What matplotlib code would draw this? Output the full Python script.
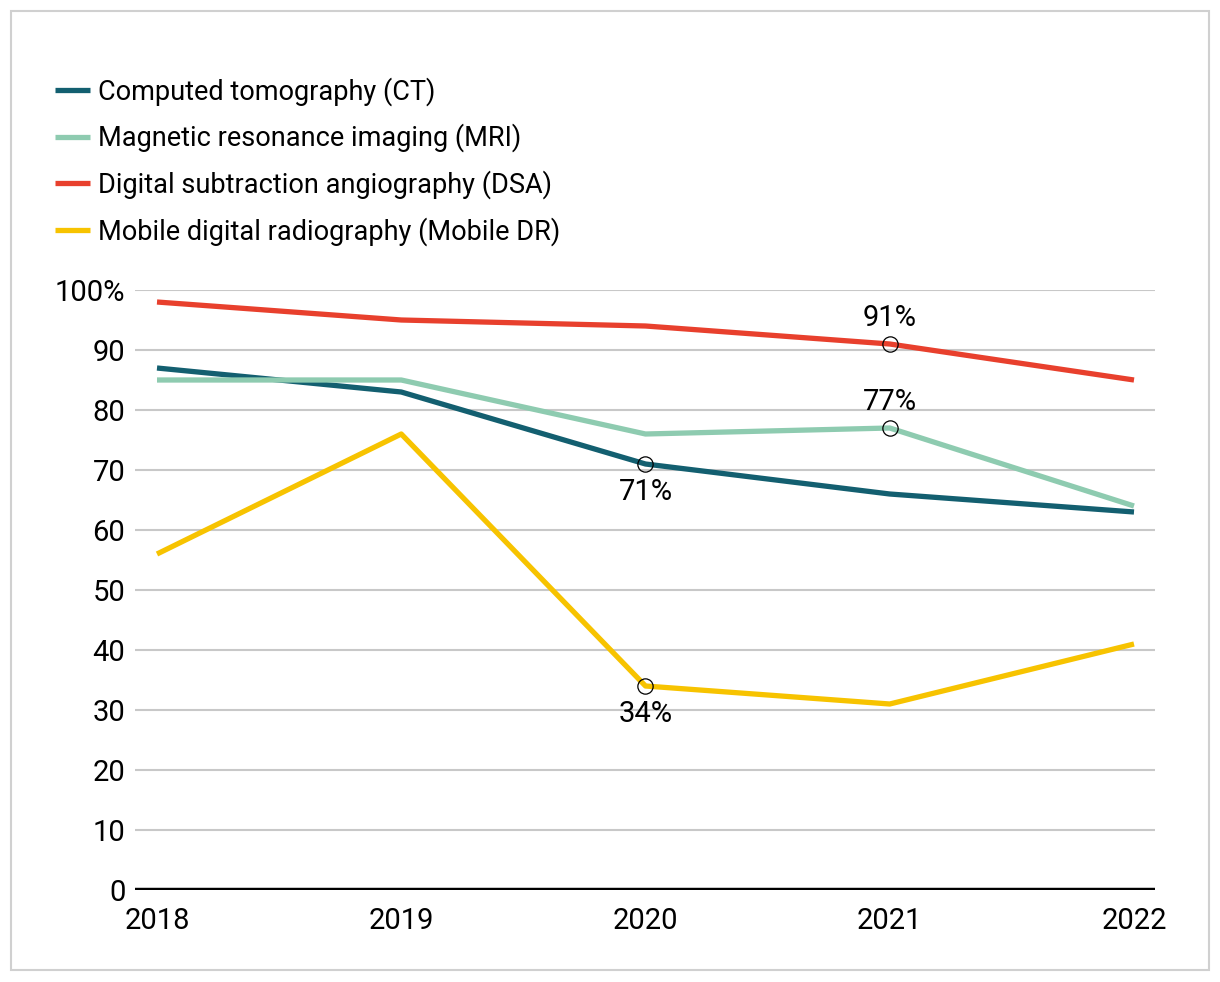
import matplotlib.pyplot as plt
from matplotlib.patches import Rectangle

plt.rcParams["font.family"] = ["Roboto", "DejaVu Sans"]

years = [2018, 2019, 2020, 2021, 2022]
ct = [87, 83, 71, 66, 63]
mri = [85, 85, 76, 77, 64]
dsa = [98, 95, 94, 91, 85]
mobile_dr = [56, 76, 34, 31, 41]

labels = [
    "Computed tomography (CT)",
    "Magnetic resonance imaging (MRI)",
    "Digital subtraction angiography (DSA)",
    "Mobile digital radiography (Mobile DR)",
]
colors = ["#135f70", "#8ecbb0", "#e8402d", "#f7c300"]

# highlighted points: (series index, year index, label position)
highlights = [(0, 2, "below"), (1, 3, "above"), (2, 3, "above"), (3, 2, "below")]

fig = plt.figure(figsize=(12.2, 9.82), dpi=100)
fig.patches.append(Rectangle((11 / 1220, 1 - 970 / 982), 1198 / 1220, 959 / 982,
                             transform=fig.transFigure, fill=False,
                             edgecolor="#d0d0d0", linewidth=1.5))

ax = fig.add_axes([135 / 1220, 1 - 890 / 982, 1020 / 1220, 600 / 982])
series = [ct, mri, dsa, mobile_dr]

for y in range(10, 101, 10):
    ax.axhline(y, color="#c8c8c8", linewidth=1.5, zorder=1)
ax.axhline(0, color="black", linewidth=3.2, zorder=2)

lines = []
for vals, lab, col in zip(series, labels, colors):
    ln, = ax.plot(years, vals, color=col, linewidth=3.8, label=lab, zorder=3,
                  solid_capstyle="butt")
    lines.append(ln)

for si, yi, pos in highlights:
    x = years[yi]
    v = series[si][yi]
    ax.plot(x, v, marker="o", markersize=11, markerfacecolor="none",
            markeredgecolor="black", markeredgewidth=0.9, zorder=4)
    dy = 19 if pos == "above" else -20
    ax.annotate(f"{v}%", (x, v), xytext=(0, dy), textcoords="offset points",
                ha="center", va="center", fontsize=21, zorder=5)

ax.set_xlim(2018 - 22 / 244.25, 2022 + 21 / 244.25)
ax.set_ylim(0, 100)
ax.set_xticks(years)
ax.set_yticks(range(0, 101, 10))
ax.set_yticklabels(["0"] + [str(v) for v in range(10, 100, 10)] + ["100%"])
ax.tick_params(axis="both", length=0, labelsize=21)
ax.tick_params(axis="y", pad=7)
ax.tick_params(axis="x", pad=12)
for s in ax.spines.values():
    s.set_visible(False)

fig.legend(handles=lines, loc="upper left", bbox_to_anchor=(55 / 1220, 1 - 77 / 982),
           frameon=False, fontsize=19.5, handlelength=1.3, handletextpad=0.3,
           labelspacing=0.66, borderaxespad=0, borderpad=0)

fig.savefig("out.png", dpi=100)
